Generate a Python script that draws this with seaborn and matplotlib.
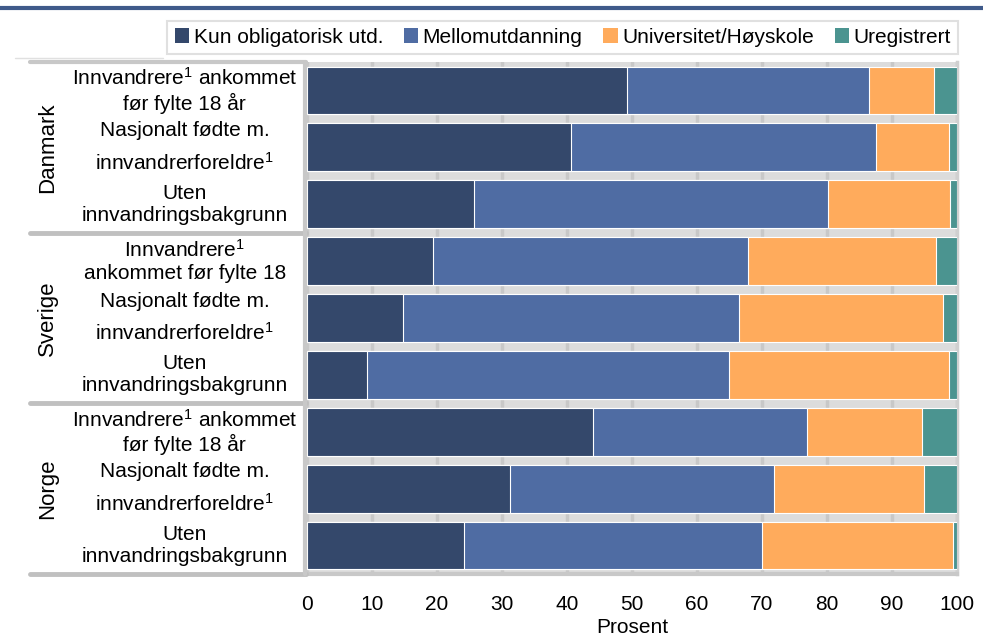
import numpy as np
import pandas as pd
import seaborn as sns
import matplotlib.pyplot as plt
import matplotlib.transforms as mtransforms
from matplotlib.patches import Patch
from matplotlib.lines import Line2D

# Data (prosent)
land = ['Danmark', 'Sverige', 'Norge']
grupper = ['Innvandrere$^1$ ankommet\nfør fylte 18 år',
           'Nasjonalt fødte m.\ninnvandrerforeldre$^1$',
           'Uten\ninnvandringsbakgrunn']
grupper_se = ['Innvandrere$^1$\nankommet før fylte 18',
              'Nasjonalt fødte m.\ninnvandrerforeldre$^1$',
              'Uten\ninnvandringsbakgrunn']
serier = ['Kun obligatorisk utd.', 'Mellomutdanning', 'Universitet/Høyskole', 'Uregistrert']
kun_oblig = [49.3, 40.6, 25.7, 19.4, 14.8, 9.2, 44.0, 31.2, 24.2]
mellom = [37.2, 46.9, 54.4, 48.5, 51.7, 55.7, 33.0, 40.6, 45.8]
univ = [10.0, 11.3, 18.9, 28.8, 31.3, 33.9, 17.6, 23.1, 29.4]
ureg = [3.5, 1.2, 1.0, 3.3, 2.2, 1.2, 5.4, 5.1, 0.6]
farger = ['#34486b', '#4f6ca3', '#ffab5c', '#4b9490']

sns.set_theme(style='white')
plt.rcParams['font.family'] = ['Liberation Sans', 'DejaVu Sans']
plt.rcParams['mathtext.fontset'] = 'custom'
plt.rcParams['mathtext.rm'] = 'Liberation Sans'
plt.rcParams['mathtext.default'] = 'regular'
plt.rcParams['text.color'] = 'black'
plt.rcParams['axes.labelcolor'] = 'black'
plt.rcParams['xtick.color'] = 'black'

rader = []
for i, l in enumerate(land):
    for g in range(3):
        rader.append(l + str(g))
df = pd.DataFrame({'rad': rader, 'a': kun_oblig, 'b': mellom, 'c': univ, 'd': ureg})
df['k1'] = df['a']
df['k2'] = df['a'] + df['b']
df['k3'] = df['k2'] + df['c']
df['k4'] = df['k3'] + df['d']

fig = plt.figure(figsize=(9.83, 6.44), dpi=100)
ax = fig.add_axes([0.3123, 0.1087, 0.9735 - 0.3123, 0.9037 - 0.1087])
ax.set_facecolor('#dcdcdc')

for kol, c in zip(['k4', 'k3', 'k2', 'k1'], farger[::-1]):
    sns.barplot(data=df, x=kol, y='rad', order=rader, color=c, orient='h', saturation=1,
                width=0.84, edgecolor='white', linewidth=0.8, ax=ax, zorder=3)

ax.set_xlim(0, 100)
ax.set_ylim(8.5, -0.5)
ax.set_xticks(range(0, 101, 10))
ax.tick_params(axis='x', labelsize=15, length=0, pad=15, colors='black')
ax.set_yticks([])
ax.set_ylabel('')
ax.set_xlabel('Prosent', fontsize=15, labelpad=3, color='black')
ax.grid(axis='x', color='#c8c8c8', linewidth=2.5, zorder=0)
ax.set_axisbelow(True)
for s in ['top', 'left']:
    ax.spines[s].set_visible(False)
ax.spines['right'].set_color('#d0d0d0')
ax.spines['right'].set_linewidth(2.5)
ax.spines['bottom'].set_color('#c8c8c8')
ax.spines['bottom'].set_linewidth(3)

# etiketter til venstre
trans = mtransforms.blended_transform_factory(fig.transFigure, ax.transData)
for i, l in enumerate(land):
    labels = grupper_se if l == 'Sverige' else grupper
    for g in range(3):
        y = i * 3 + g
        ls = 1.65 if g == 1 else 1.2
        ax.text(0.188, y, labels[g], transform=trans, ha='center', va='center',
                fontsize=15, linespacing=ls, color='black')
    ax.text(0.048, i * 3 + 1, l, transform=trans, ha='center', va='center',
            rotation=90, fontsize=16, color='black')
    yb = i * 3 + 2.5
    fig.add_artist(Line2D([0.031, 0.311], [yb, yb], transform=trans,
                          color='#c0c0c0', linewidth=3.5, clip_on=False))
fig.add_artist(Line2D([0.031, 0.311], [-0.5, -0.5], transform=trans,
                      color='#c8c8c8', linewidth=3, clip_on=False))
fig.add_artist(Line2D([0.3105, 0.3105], [-0.5, 8.5], transform=trans,
                      color='#c8c8c8', linewidth=3, clip_on=False))

# linje øverst
fig.add_artist(Line2D([0, 1], [0.987, 0.987], transform=fig.transFigure,
                      color='#3f5a8a', linewidth=3))
fig.add_artist(Line2D([0.015, 0.166], [0.91, 0.91], transform=fig.transFigure,
                      color='#e0e0e0', linewidth=1))

handles = [Patch(facecolor=c, edgecolor='none') for c in farger]
leg = fig.legend(handles, serier, loc='center', bbox_to_anchor=(0.5725, 0.942),
                 ncol=4, fontsize=15, frameon=True, fancybox=False,
                 handlelength=0.7, handleheight=0.7, handletextpad=0.2,
                 columnspacing=1.0, borderpad=0.35)
leg.get_frame().set_edgecolor('#d9d9d9')
leg.get_frame().set_linewidth(1.5)
for t in leg.get_texts():
    t.set_color('black')

fig.savefig('out.png', dpi=100)
